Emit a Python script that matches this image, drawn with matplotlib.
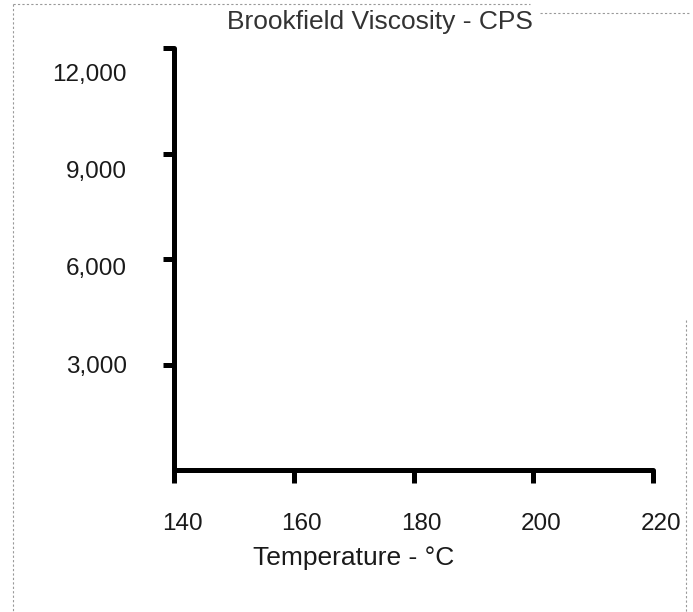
import matplotlib
matplotlib.use("Agg")
import matplotlib.pyplot as plt
from matplotlib.lines import Line2D
from matplotlib.transforms import ScaledTranslation

# chart is an empty frame: only axes, ticks and labels
x_ticks = [140, 160, 180, 200, 220]
x_labels = ["140", "160", "180", "200", "220"]
y_ticks = [3000, 6000, 9000, 12000]
y_labels = ["3,000", "6,000", "9,000", "12,000"]

plt.rcParams['font.family'] = ['Liberation Sans', 'DejaVu Sans']

fig = plt.figure(figsize=(6.93, 6.12), dpi=100)
ax = fig.add_axes([174/693, 1 - 470/612, 479/693, 422/612])

ax.set_xlim(140, 220)
ax.set_ylim(0, 12000)
for s in ['top', 'right']:
    ax.spines[s].set_visible(False)
for s in ['left', 'bottom']:
    ax.spines[s].set_linewidth(3.6)
    ax.spines[s].set_capstyle('round')

ax.set_xticks(x_ticks)
ax.set_xticklabels(x_labels, fontsize=17.5, color='#1a1a1a')
ax.set_yticks(y_ticks)
ax.set_yticklabels(y_labels, fontsize=17.5, color='#1a1a1a')
ax.tick_params(axis='x', direction='out', length=9, width=3.6, pad=22)
ax.tick_params(axis='y', direction='out', length=8, width=3.6, pad=26)

# uneven label offsets of the scanned original (pixels)
y_shift = [0, -8, -16, -24]
for lab, dy in zip(ax.get_yticklabels(), y_shift):
    lab.set_transform(lab.get_transform() + ScaledTranslation(0, dy/100, fig.dpi_scale_trans))
for lab in ax.get_xticklabels():
    lab.set_transform(lab.get_transform() + ScaledTranslation(8/100, 0, fig.dpi_scale_trans))

ax.set_xlabel("Temperature - \u00b0C", fontsize=19, color='#1a1a1a', va='center')
ax.xaxis.set_label_coords((354 - 174)/479, (470 - 558)/422)

fig.text(380/693, 1 - 22/612, "Brookfield Viscosity - CPS", fontsize=19,
         color='#333333', ha='center', va='center')

# faint dotted scan border
border = dict(color='#999999', lw=0.8, linestyle=(0, (2, 2)), transform=fig.transFigure)
fig.add_artist(Line2D([13/693, 530/693], [1 - 4/612, 1 - 4/612], **border))
fig.add_artist(Line2D([540/693, 690/693], [1 - 13/612, 1 - 13/612], **border))
fig.add_artist(Line2D([13/693, 13/693], [1 - 4/612, 0], **border))
fig.add_artist(Line2D([686/693, 686/693], [1 - 320/612, 0], **border))

fig.savefig("out.png", dpi=100)
